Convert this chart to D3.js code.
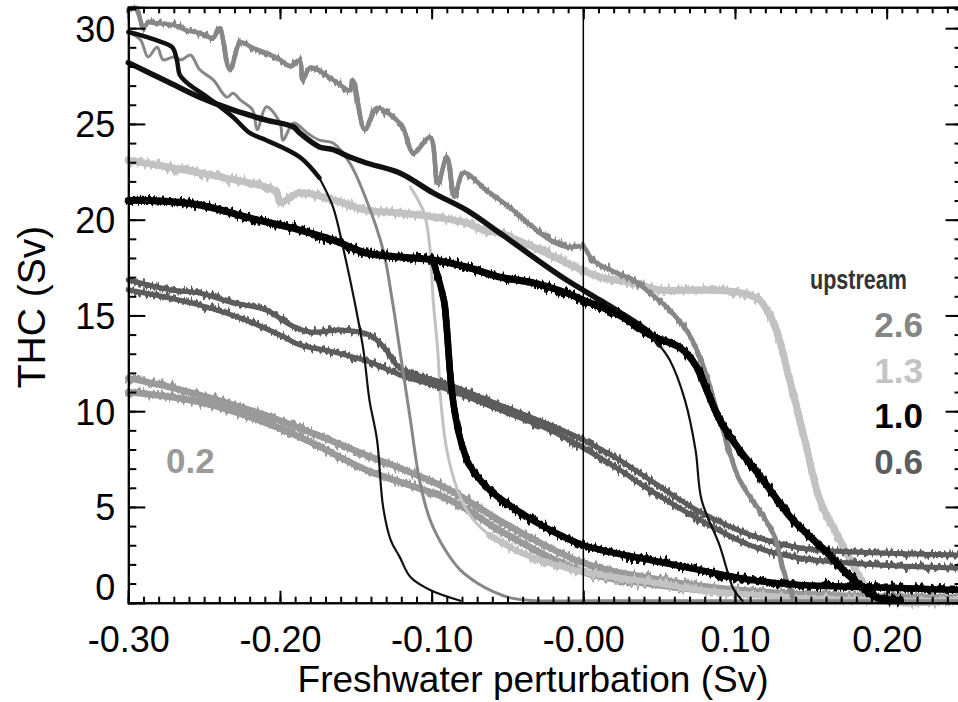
<!DOCTYPE html>
<html>
<head>
<meta charset="utf-8">
<script src="https://cdn.jsdelivr.net/npm/d3@7"></script>
<style>
  body { margin: 0; background: #fff; }
  svg text { font-family: "Liberation Sans", Arial, Helvetica, sans-serif; }
  .axis path, .axis line { stroke: #000; stroke-width: 2; }
  .curve { fill: none; stroke-linejoin: round; stroke-linecap: round; }
</style>
</head>
<body>
<div id="chart"></div>
<script>
// tick values / labels
const xMajor = [-0.30, -0.20, -0.10, 0.00, 0.10, 0.20];
const xLabels = ["-0.30", "-0.20", "-0.10", "-0.00", "0.10", "0.20"];
const yMajor = [0, 5, 10, 15, 20, 25, 30];
const yLabels = ["0", "5", "10", "15", "20", "25", "30"];

// legend
const legendLabels = ["2.6", "1.3", "1.0", "0.6"];
const legendColors = ["#858585", "#c4c4c4", "#000000", "#5c5c5c"];

// upstream 2.6 (grey) : on branch with sawtooth, collapse near 0.13
const up26On = [[-0.300,30.95],[-0.295,31.05],[-0.292,30.4],[-0.290,30.0],[-0.287,30.3],[-0.283,30.27],[-0.270,30.16],[-0.262,29.9],[-0.253,29.75],[-0.244,29.5],[-0.240,30.0],[-0.233,27.84],[-0.226,29.25],[-0.218,28.97],[-0.209,28.7],[-0.200,28.35],[-0.193,28.0],[-0.187,28.3],[-0.185,27.3],[-0.180,27.94],[-0.165,27.3],[-0.154,26.77],[-0.152,27.3],[-0.144,24.7],[-0.136,25.83],[-0.123,25.2],[-0.119,24.84],[-0.112,23.48],[-0.101,24.3],[-0.096,21.9],[-0.090,23.27],[-0.085,21.2],[-0.079,22.44],[-0.064,21.55],[-0.055,21.03],[-0.044,20.35],[-0.033,19.6],[-0.022,18.94],[-0.011,18.57],[0.000,18.57],[0.006,17.9],[0.022,17.22],[0.033,16.85],[0.044,16.17],[0.057,15.28],[0.070,13.98],[0.080,12.15],[0.090,9.54],[0.103,6.4],[0.116,4.84],[0.126,3.48],[0.132,1.65],[0.139,0.1]];
// upstream 2.6 : off branch and recovery near -0.12
const up26Off = [[0.247,0.1],[0.011,0.1],[-0.035,0.12],[-0.048,0.25],[-0.059,0.56],[-0.070,1.03],[-0.081,1.7],[-0.091,2.75],[-0.101,4.32],[-0.108,6.4],[-0.114,9.54],[-0.121,13.2],[-0.126,15.8],[-0.132,18.42],[-0.143,21.03],[-0.154,22.96],[-0.165,24.0],[-0.174,24.15],[-0.182,24.53],[-0.191,25.05],[-0.198,24.15],[-0.200,25.05],[-0.209,25.9],[-0.215,24.7],[-0.218,25.73],[-0.226,26.24],[-0.231,26.6],[-0.235,26.4],[-0.244,27.3],[-0.253,27.84],[-0.259,28.6],[-0.265,28.35],[-0.270,28.5],[-0.277,28.35],[-0.281,29.0],[-0.287,28.5],[-0.292,29.4],[-0.300,29.8]];

// upstream 1.3 (light grey)
const up13On = [[-0.300,23.1],[-0.274,22.75],[-0.253,22.44],[-0.231,22.1],[-0.209,21.7],[-0.202,21.4],[-0.200,20.9],[-0.187,21.4],[-0.165,21.03],[-0.143,20.5],[-0.121,20.35],[-0.099,20.14],[-0.077,19.83],[-0.066,19.46],[-0.055,19.3],[-0.033,18.57],[-0.011,17.74],[0.011,17.0],[0.033,16.7],[0.050,16.33],[0.077,16.33],[0.103,16.2],[0.116,15.8],[0.126,14.5],[0.136,11.63],[0.146,8.5],[0.156,5.36],[0.165,3.9],[0.175,2.38],[0.184,1.08],[0.194,0.2],[0.247,0.1]];
const up13Rise = [[0.000,1.6],[-0.022,2.07],[-0.042,2.64],[-0.062,3.54],[-0.075,4.6],[-0.083,5.9],[-0.090,7.97],[-0.094,10.58],[-0.096,13.2],[-0.099,15.8],[-0.101,18.42],[-0.105,20.35],[-0.114,21.7]];
const up13Off = [[0.247,0.1],[0.196,0.12],[0.143,0.25],[0.077,0.66],[0.044,1.08],[0.000,1.6],[-0.022,2.07],[-0.042,2.64],[-0.062,3.54]];

// upstream 1.0 (black, noisy)
const up10On = [[-0.300,21.0],[-0.286,21.0],[-0.253,20.77],[-0.220,20.09],[-0.187,19.46],[-0.165,18.94],[-0.143,18.26],[-0.121,18.05],[-0.099,17.9],[-0.077,17.53],[-0.055,17.0],[-0.033,16.7],[-0.011,16.17],[0.000,15.8],[0.024,15.0],[0.044,13.98],[0.064,13.3],[0.074,12.41],[0.080,11.37],[0.090,9.54],[0.103,7.97],[0.116,6.66],[0.128,5.36],[0.137,4.42],[0.149,3.48],[0.161,2.6],[0.172,1.65],[0.185,0.72],[0.194,0.25],[0.209,0.12]];
const up10Off = [[0.247,0.66],[0.209,0.77],[0.143,0.92],[0.110,1.19],[0.077,1.7],[0.044,2.23],[0.000,3.0],[-0.022,3.8],[-0.042,4.74],[-0.062,5.9],[-0.075,7.18],[-0.081,8.5],[-0.085,10.06],[-0.088,12.15],[-0.092,15.8],[-0.099,17.8]];

// black reference runs (smooth)
const refOn = [[-0.300,28.2],[-0.274,27.2],[-0.253,26.4],[-0.231,25.73],[-0.209,25.2],[-0.191,24.84],[-0.187,24.53],[-0.174,23.8],[-0.165,23.66],[-0.154,23.27],[-0.143,22.96],[-0.121,22.44],[-0.099,21.4],[-0.077,20.5],[-0.055,19.3],[-0.033,18.05],[-0.011,16.85],[0.011,15.8],[0.024,15.17],[0.044,14.08],[0.050,13.46]];
const refDrop = [[0.050,13.46],[0.057,12.67],[0.067,10.58],[0.074,7.97],[0.078,5.36],[0.090,2.96],[0.099,0.72],[0.105,0.1]];
const refBack = [[-0.300,29.8],[-0.292,29.64],[-0.279,29.3],[-0.271,29.0],[-0.268,28.35],[-0.266,27.55],[-0.262,27.2],[-0.253,26.67],[-0.248,26.4],[-0.231,25.36],[-0.220,24.53],[-0.209,24.15],[-0.187,23.27],[-0.174,22.18]];
const refRise = [[-0.174,22.18],[-0.165,20.66],[-0.158,18.4],[-0.151,15.8],[-0.145,13.2],[-0.141,10.58],[-0.136,8.5],[-0.132,5.0],[-0.127,3.27],[-0.121,2.38],[-0.114,1.34],[-0.101,0.66],[-0.081,0.1]];

// upstream 0.6 (dark grey)
const up06A = [[-0.300,16.85],[-0.272,16.33],[-0.253,16.17],[-0.233,15.7],[-0.209,15.28],[-0.193,14.5],[-0.180,14.13],[-0.160,14.24],[-0.141,13.98],[-0.131,13.3],[-0.121,12.26],[-0.088,11.37],[-0.055,10.32],[-0.022,9.28],[0.000,8.5],[0.024,7.45],[0.044,6.4],[0.077,4.74],[0.110,3.54],[0.143,2.86],[0.196,2.6],[0.247,2.49]];
const up06B = [[-0.300,16.33],[-0.272,15.9],[-0.253,15.54],[-0.226,14.86],[-0.200,13.98],[-0.187,13.46],[-0.165,13.1],[-0.141,12.57],[-0.121,11.9],[-0.088,11.1],[-0.055,10.06],[-0.022,9.02],[0.000,8.08],[0.024,6.93],[0.044,5.88],[0.077,4.32],[0.110,3.0],[0.143,2.33],[0.196,1.97],[0.247,1.81]];

// upstream 0.2 (grey)
const up02A = [[-0.300,11.73],[-0.279,11.37],[-0.253,10.85],[-0.220,10.06],[-0.187,9.12],[-0.143,7.7],[-0.121,7.03],[-0.088,5.88],[-0.050,4.06],[0.000,2.07],[0.044,1.29],[0.077,0.87],[0.143,0.45],[0.247,0.25]];
const up02B = [[-0.300,11.0],[-0.253,10.48],[-0.220,9.7],[-0.187,8.65],[-0.143,6.93],[-0.121,6.3],[-0.088,5.36],[-0.050,3.54],[0.000,1.6],[0.044,0.98],[0.077,0.66],[0.143,0.3],[0.247,0.14]];

window.addEventListener("load", () => {
  const W = 958, H = 702;
  const margin = {top: 7.3, left: 128.3};
  const plotW = 834.2, plotH = 595.4;

  const svg = d3.select("#chart").append("svg")
      .attr("width", W).attr("height", H);

  // ragged texture for the noisy model output (vertical jitter only)
  const defs = svg.append("defs");
  const jitter = defs.append("filter").attr("id", "jitter")
      .attr("filterUnits", "userSpaceOnUse")
      .attr("x", -20).attr("y", -20).attr("width", plotW + 40).attr("height", plotH + 40);
  jitter.append("feTurbulence")
      .attr("type", "fractalNoise").attr("baseFrequency", "0.35 0.015")
      .attr("numOctaves", 2).attr("seed", 7).attr("result", "noise");
  jitter.append("feColorMatrix")
      .attr("in", "noise").attr("type", "matrix")
      .attr("values", "1 0 0 0 0  0 0 0 0 0.5  0 0 1 0 0  0 0 0 0 1")
      .attr("result", "vnoise");
  jitter.append("feDisplacementMap")
      .attr("in", "SourceGraphic").attr("in2", "vnoise")
      .attr("scale", 14).attr("xChannelSelector", "G").attr("yChannelSelector", "R");

  const x = d3.scaleLinear().domain([-0.30, 0.25]).range([0, plotW]);
  const y = d3.scaleLinear().domain([0, 31.09]).range([plotH, 0]);

  const g = svg.append("g").attr("transform", `translate(${margin.left},${margin.top})`);

  const line = d3.line().x(d => x(d[0])).y(d => y(d[1]))
      .curve(d3.curveCatmullRom.alpha(0.5));

  // curves, back to front
  const curves = [
    {data: up02A, color: "#9a9a9a", w: 6.5, noisy: true},
    {data: up02B, color: "#9a9a9a", w: 6.5, noisy: true},
    {data: up13Off, color: "#c2c2c2", w: 6, noisy: true},
    {data: up13Rise, color: "#c2c2c2", w: 3, noisy: false},
    {data: up13On, color: "#c2c2c2", w: 7, noisy: true},
    {data: up06A, color: "#5c5c5c", w: 5, noisy: true},
    {data: up06B, color: "#5c5c5c", w: 5, noisy: true},
    {data: up26Off, color: "#878787", w: 3, noisy: false},
    {data: up26On, color: "#878787", w: 4.5, noisy: true},
    {data: refBack, color: "#111", w: 4.5, noisy: false},
    {data: refRise, color: "#111", w: 2.2, noisy: false},
    {data: refOn, color: "#111", w: 5.5, noisy: false},
    {data: refDrop, color: "#111", w: 2.2, noisy: false},
    {data: up10Off, color: "#050505", w: 6.5, noisy: true},
    {data: up10On, color: "#050505", w: 7, noisy: true}
  ];

  const cg = g.append("g").attr("class", "curves");
  curves.forEach(c => {
    // clean core
    cg.append("path").attr("class", "curve")
      .attr("d", line(c.data))
      .attr("stroke", c.color)
      .attr("stroke-width", c.w);
    // ragged copy on top
    if (c.noisy) {
      cg.append("path").attr("class", "curve")
        .attr("d", line(c.data))
        .attr("stroke", c.color)
        .attr("stroke-width", c.w)
        .attr("filter", "url(#jitter)");
    }
  });

  // zero line
  g.append("line")
    .attr("x1", x(0)).attr("x2", x(0))
    .attr("y1", 0).attr("y2", plotH)
    .attr("stroke", "#000").attr("stroke-width", 1.5);

  // axes
  const xMinor = d3.range(-30, 26).map(v => v / 100);
  const yMinor = d3.range(0, 32);

  g.append("g").attr("class", "axis")
    .attr("transform", `translate(0,${plotH})`)
    .call(d3.axisBottom(x).tickValues(xMinor).tickSize(-6).tickFormat(""));
  const xAx = g.append("g").attr("class", "axis")
    .attr("transform", `translate(0,${plotH})`)
    .call(d3.axisBottom(x).tickValues(xMajor).tickSize(-12)
      .tickFormat((d, i) => xLabels[i]));
  xAx.selectAll("text")
    .attr("y", 49).attr("dy", 0)
    .attr("font-size", 36).attr("fill", "#000");

  g.append("g").attr("class", "axis")
    .call(d3.axisTop(x).tickValues(xMinor).tickSize(-6).tickFormat(""));
  g.append("g").attr("class", "axis")
    .call(d3.axisTop(x).tickValues(xMajor).tickSize(-12).tickFormat(""));

  g.append("g").attr("class", "axis")
    .call(d3.axisLeft(y).tickValues(yMinor).tickSize(-8).tickFormat(""));
  const yAx = g.append("g").attr("class", "axis")
    .call(d3.axisLeft(y).tickValues(yMajor).tickSize(-17)
      .tickFormat((d, i) => yLabels[i]));
  yAx.selectAll("text")
    .attr("x", -13).attr("dy", (d) => d === 0 ? "-0.1em" : "0.36em")
    .attr("font-size", 36).attr("fill", "#000");

  g.append("g").attr("class", "axis")
    .attr("transform", `translate(${plotW},0)`)
    .call(d3.axisRight(y).tickValues(yMinor).tickSize(-8).tickFormat(""));
  g.append("g").attr("class", "axis")
    .attr("transform", `translate(${plotW},0)`)
    .call(d3.axisRight(y).tickValues(yMajor).tickSize(-17).tickFormat(""));

  // axis titles
  svg.append("text")
    .attr("x", 533).attr("y", 692)
    .attr("text-anchor", "middle")
    .attr("font-size", 37)
    .text("Freshwater perturbation (Sv)");

  svg.append("text")
    .attr("transform", "translate(45,307) rotate(-90)")
    .attr("text-anchor", "middle")
    .attr("font-size", 39)
    .text("THC (Sv)");

  // legend
  svg.append("text")
    .attr("x", 810).attr("y", 289)
    .attr("textLength", 97).attr("lengthAdjust", "spacingAndGlyphs")
    .attr("font-weight", "bold")
    .attr("font-size", 28)
    .attr("fill", "#333")
    .text("upstream");

  svg.append("g").selectAll("text").data(legendLabels).join("text")
    .attr("x", 923)
    .attr("y", (d, i) => 337 + i * 45.7)
    .attr("text-anchor", "end")
    .attr("font-weight", "bold")
    .attr("font-size", 35)
    .attr("fill", (d, i) => legendColors[i])
    .text(d => d);

  svg.append("text")
    .attr("x", 166).attr("y", 473)
    .attr("font-weight", "bold")
    .attr("font-size", 35)
    .attr("fill", "#9a9a9a")
    .text("0.2");
});
</script>
</body>
</html>
